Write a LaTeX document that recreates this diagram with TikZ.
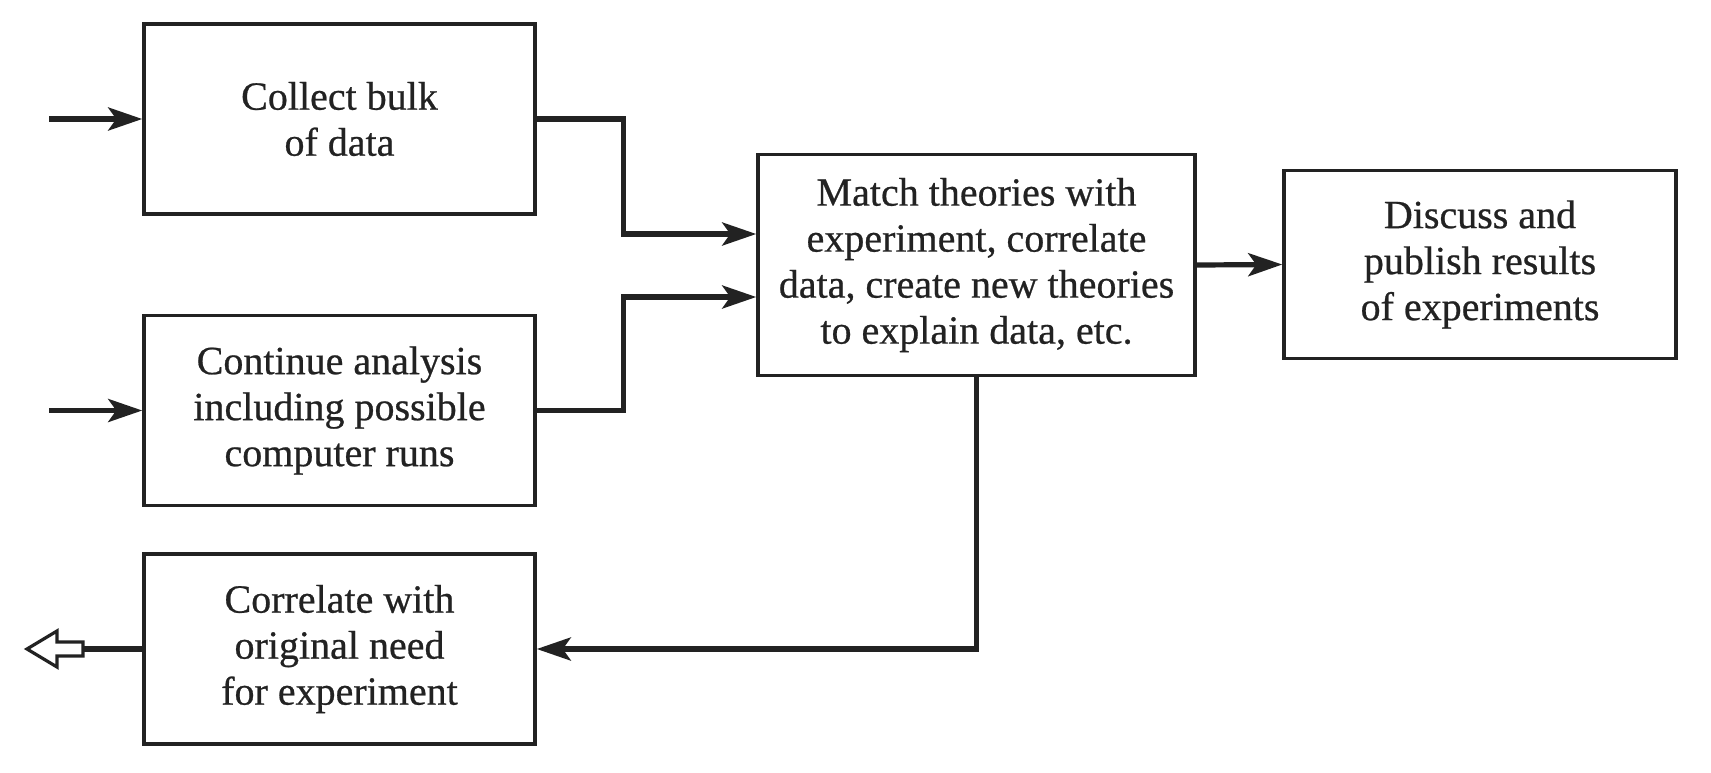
\documentclass[tikz,border=0pt]{standalone}
\usepackage{fontspec}
\setmainfont{Liberation Serif}
\newfontfamily\heavyserif[FakeBold=0.6]{Liberation Serif}
\usetikzlibrary{arrows.meta}
\definecolor{ink}{HTML}{222222}
\begin{document}
\begin{tikzpicture}[x=0.5pt,y=-0.5pt,
  box/.style={draw=ink, line width=1.75pt, align=center, inner sep=0pt,
    text=ink, font=\heavyserif\fontsize{20}{23}\selectfont},
  conn/.style={draw=ink, line width=2.6pt,
    -{Stealth[length=17pt,width=11.5pt,inset=4pt]}}]
\useasboundingbox (0,0) rectangle (1711,772);
\node[box, minimum width=195.5pt, minimum height=95pt] (b1) at (339.5,119) {Collect bulk\\of data};
\node[box, minimum width=195.5pt, minimum height=95pt] (b2) at (339.5,410.5) {Continue analysis\\including possible\\computer runs};
\node[box, minimum width=195.5pt, minimum height=95pt] (b3) at (339.5,649) {Correlate with\\original need\\for experiment};
\node[box, minimum width=218.5pt, minimum height=110.5pt] (b4) at (976.5,265) {Match theories with\\experiment, correlate\\data, create new theories\\to explain data, etc.};
\node[box, minimum width=196pt, minimum height=94pt] (b5) at (1480,264.5) {Discuss and\\publish results\\of experiments};
\coordinate (in1) at (49,119);
\coordinate (in2) at (49,410.5);
\coordinate (hb) at (83,649);
\coordinate (out) at (27,649);
\draw[conn] (in1) -- (b1.west);
\draw[conn] (in2) -- (b2.west);
\draw[conn] (b1.east) -- ++(87,0) |- ([yshift=15.5pt]b4.west);
\draw[conn] (b2.east) -- ++(87,0) |- ([yshift=-16pt]b4.west);
\draw[conn] (b4.east) -- (b5.west);
\draw[conn] (b4.south) |- (b3.east);
\draw[draw=ink, line width=2.6pt] (b3.west) -- (hb);
\draw[draw=ink, line width=1.6pt, line join=miter, fill=white]
  (out) -- ++(30,-18) -- ++(0,11) -- ++(26,0) -- ++(0,14) -- ++(-26,0) -- ++(0,11) -- cycle;
\end{tikzpicture}
\end{document}
